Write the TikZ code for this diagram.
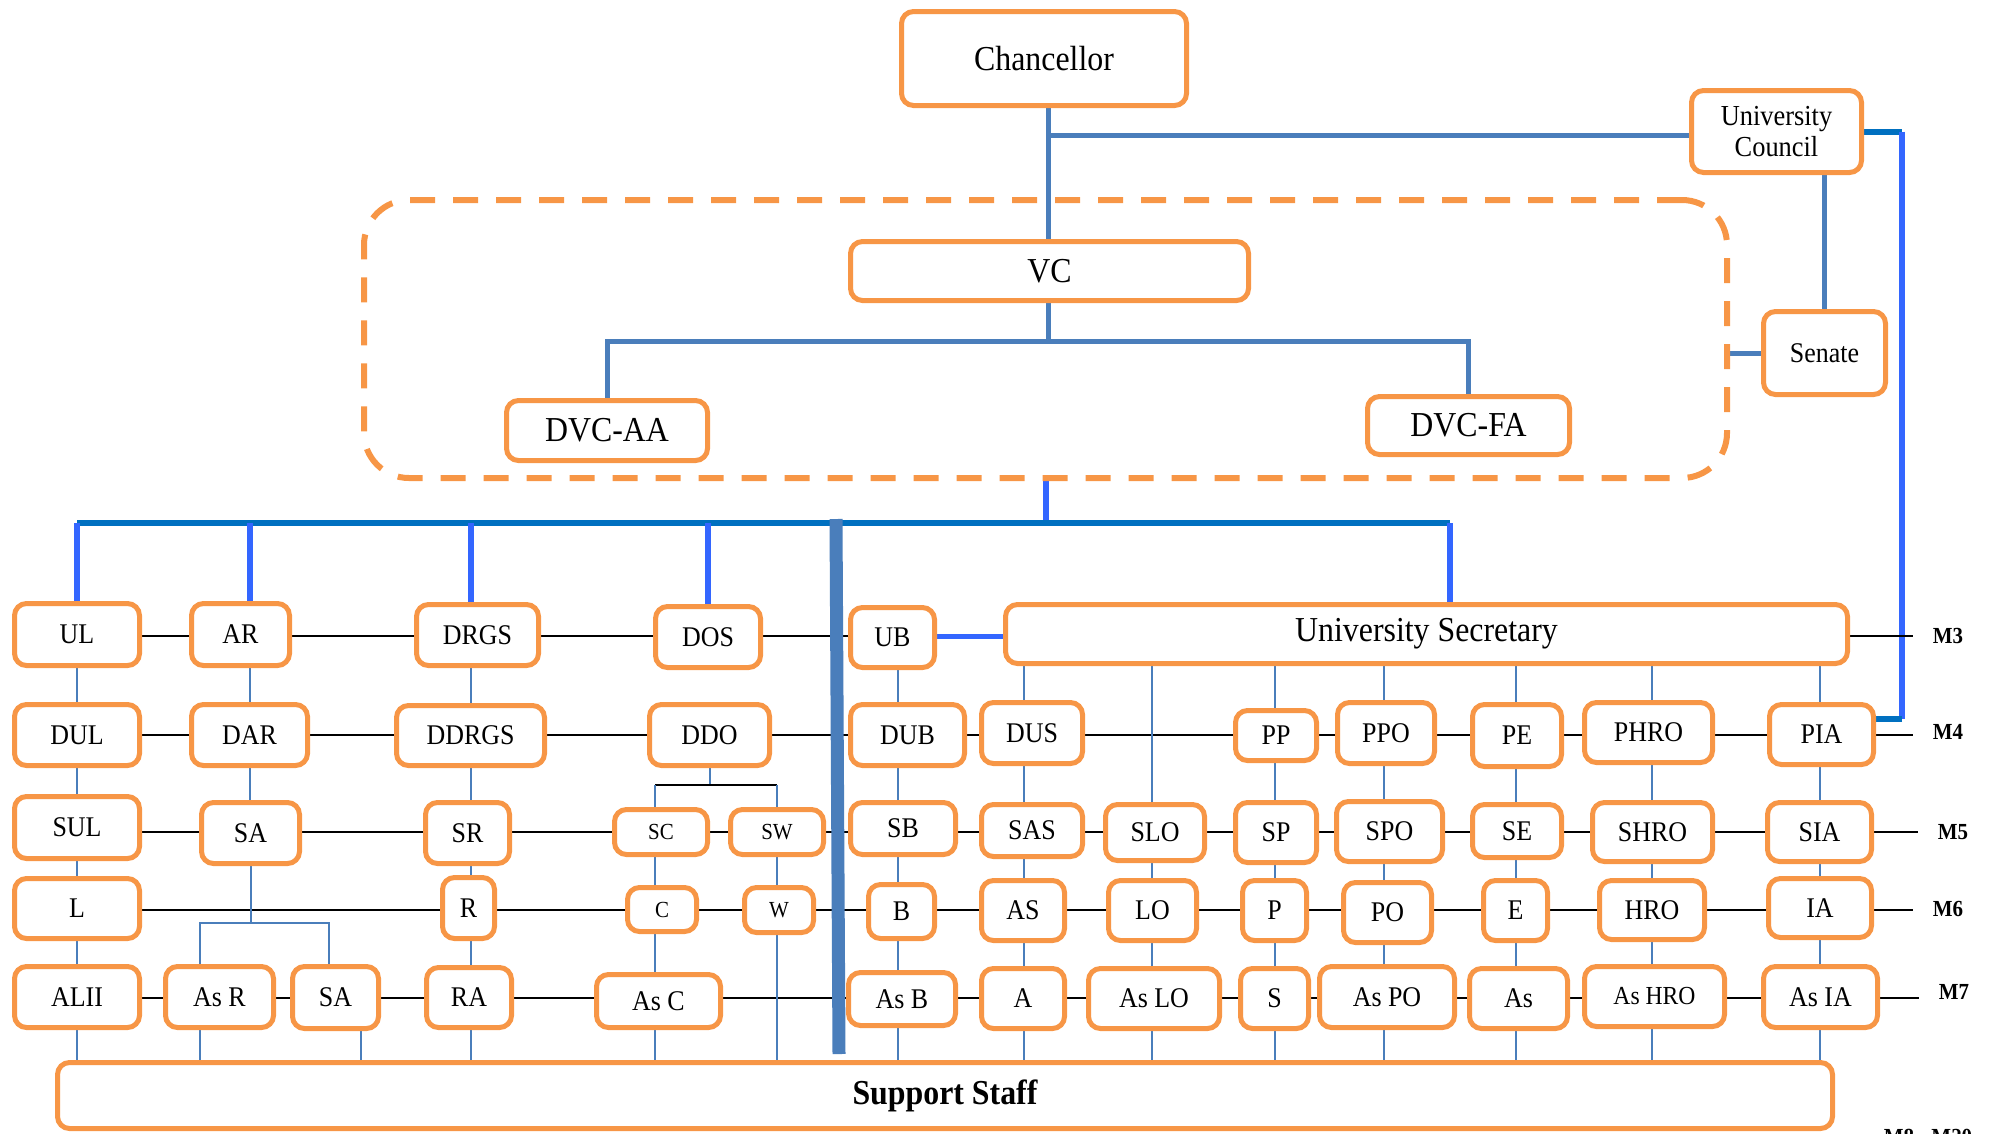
\documentclass[tikz,border=0pt]{standalone}
\usepackage{fontspec}
\setmainfont{Liberation Serif}[FakeStretch=0.91]
\usetikzlibrary{backgrounds}

\definecolor{orgorange}{HTML}{F79646}
\definecolor{steel}{HTML}{4A7EBB}
\definecolor{busblue}{HTML}{0070C0}
\definecolor{brightblue}{HTML}{3366FF}

% box from outer corner (x1,y1) to (x2,y2), y measured downwards
\newcommand\orgbox[7]{\node[box,#1,minimum width={#5-#3-5},minimum height={#6-#4-5}] (#2) at ({(#3+#5)/2},{(#4+#6)/2}) {#7};}
% vertical links along a column coordinate
\newcommand\vlinks[2]{\foreach \a/\b in {#2}{\draw[vline] (#1 |- \a.south) -- (#1 |- \b.north);}}
% horizontal links along a row coordinate
\newcommand\hlinks[2]{\foreach \a/\b in {#2}{\draw[hline] (\a.east |- #1) -- (\b.west |- #1);}}

\tikzset{
  box/.style={draw=orgorange, line width=5pt, rounded corners=12pt, fill=white,
    inner sep=0pt, align=center, font=\fontsize{28.5}{32}\selectfont},
  big/.style={font=\fontsize{35}{40}\selectfont},
  small/.style={font=\fontsize{23}{26}\selectfont},
  execbox/.style={draw=orgorange, line width=6pt, dash pattern=on 25pt off 18pt,
    rounded corners=45pt, inner sep=0pt},
  mlab/.style={inner sep=0pt, font=\fontsize{23}{26}\selectfont\bfseries},
  hline/.style={draw=black, line width=2.5pt},
  vline/.style={draw=steel, line width=2pt},
  topline/.style={draw=steel, line width=5pt},
  busline/.style={draw=busblue, line width=6pt},
  dropline/.style={draw=brightblue, line width=6pt},
}

\begin{document}
\begin{tikzpicture}[x=1pt, y=-1pt]
\useasboundingbox (0,0) rectangle (1994,1133);

% ---------- reference coordinates ----------
\coordinate (cTop) at (1048,0);
\coordinate (hUC) at (0,135);
\coordinate (hDVC) at (0,341);
\coordinate (bus) at (0,523);
\coordinate (cUS) at (1450,0);
\coordinate (rowA) at (0,636);
\coordinate (rowB) at (0,735);
\coordinate (rowC) at (0,832);
\coordinate (rowD) at (0,910);
\coordinate (rowE) at (0,998);
\coordinate (brL) at (200,923);
\coordinate (brR) at (329,923);
\coordinate (stubR) at (361,0);
\coordinate (brC) at (655,785);
\coordinate (brW) at (777,785);
\coordinate (cU) at (898,0);
\coordinate (cDUS) at (1024,0);
\coordinate (cLO) at (1152,0);
\coordinate (cP) at (1275,0);
\coordinate (cPO) at (1384,0);
\coordinate (cE) at (1516,0);
\coordinate (cH) at (1652,0);
\coordinate (cI) at (1820,0);
\coordinate (linkX) at (1902,0);
\coordinate (piaY) at (0,719);
\coordinate (barTop) at (836,519);
\coordinate (barBot) at (839,1054);

% ---------- executive group ----------
\node[execbox, minimum width=1363, minimum height=278] (exec) at (1045.5,339) {};

% ---------- top level ----------
\orgbox{big}{chan}{899}{9}{1189}{108}{Chancellor}
\orgbox{font=\fontsize{29}{31}\selectfont}{uc}{1689}{88}{1864}{175}{University\\Council}
\orgbox{}{senate}{1761}{309}{1888}{397}{Senate}
\orgbox{big}{vc}{848}{239}{1251}{303}{VC}
\orgbox{big}{dvcaa}{504}{398}{710}{463}{DVC-AA}
\orgbox{big}{dvcfa}{1365}{394}{1572}{457}{DVC-FA}

% ---------- M3 ----------
\orgbox{}{ul}{12}{601}{142}{668}{UL}
\orgbox{}{ar}{189}{601}{292}{668}{AR}
\orgbox{}{drgs}{414}{602}{541}{668}{DRGS}
\orgbox{}{dos}{653}{604}{763}{670}{DOS}
\orgbox{}{ub}{848}{605}{937}{670}{UB}
\orgbox{big}{us}{1003}{602}{1850}{666}{University Secretary}

% ---------- M4 ----------
\orgbox{}{dul}{12}{702}{142}{768}{DUL}
\orgbox{}{dar}{189}{702}{310}{768}{DAR}
\orgbox{}{ddrgs}{394}{703}{547}{768}{DDRGS}
\orgbox{}{ddo}{647}{702}{772}{768}{DDO}
\orgbox{}{dub}{848}{702}{967}{768}{DUB}
\orgbox{}{dus}{979}{700}{1085}{766}{DUS}
\orgbox{}{pp}{1233}{708}{1319}{763}{PP}
\orgbox{}{ppo}{1335}{700}{1437}{766}{PPO}
\orgbox{}{pe}{1470}{702}{1564}{769}{PE}
\orgbox{}{phro}{1582}{700}{1715}{765}{PHRO}
\orgbox{}{pia}{1767}{702}{1876}{767}{PIA}

% ---------- M5 ----------
\orgbox{}{sul}{12}{794}{142}{861}{SUL}
\orgbox{}{sa1}{199}{800}{302}{866}{SA}
\orgbox{}{sr}{423}{800}{512}{866}{SR}
\orgbox{small}{sc}{612}{807}{710}{857}{SC}
\orgbox{small}{sw}{728}{807}{826}{857}{SW}
\orgbox{}{sb}{848}{800}{958}{857}{SB}
\orgbox{}{sas}{979}{802}{1085}{859}{SAS}
\orgbox{}{slo}{1103}{802}{1207}{863}{SLO}
\orgbox{}{sp}{1233}{800}{1319}{865}{SP}
\orgbox{}{spo}{1334}{799}{1445}{864}{SPO}
\orgbox{}{se}{1470}{802}{1564}{860}{SE}
\orgbox{}{shro}{1590}{800}{1715}{864}{SHRO}
\orgbox{}{sia}{1765}{800}{1874}{864}{SIA}

% ---------- M6 ----------
\orgbox{}{l}{12}{876}{142}{941}{L}
\orgbox{}{r}{440}{875}{497}{941}{R}
\orgbox{small}{c}{625}{885}{699}{934}{C}
\orgbox{small}{w}{742}{885}{816}{935}{W}
\orgbox{}{b}{866}{882}{937}{941}{B}
\orgbox{}{as}{979}{878}{1067}{943}{AS}
\orgbox{}{lo}{1106}{878}{1199}{943}{LO}
\orgbox{}{p}{1240}{878}{1309}{943}{P}
\orgbox{}{po}{1341}{880}{1434}{945}{PO}
\orgbox{}{e}{1481}{878}{1550}{943}{E}
\orgbox{}{hro}{1597}{878}{1707}{942}{HRO}
\orgbox{}{ia}{1766}{876}{1874}{940}{IA}

% ---------- M7 ----------
\orgbox{}{alii}{12}{964}{142}{1030}{ALII}
\orgbox{}{asr}{163}{964}{276}{1030}{As R}
\orgbox{}{sa2}{290}{964}{381}{1031}{SA}
\orgbox{}{ra}{424}{965}{514}{1030}{RA}
\orgbox{}{asc}{594}{972}{723}{1030}{As C}
\orgbox{}{asb}{846}{970}{958}{1028}{As B}
\orgbox{}{a}{979}{966}{1067}{1031}{A}
\orgbox{}{aslo}{1086}{966}{1222}{1031}{As LO}
\orgbox{}{s}{1238}{966}{1311}{1031}{S}
\orgbox{}{aspo}{1317}{964}{1457}{1030}{As PO}
\orgbox{}{ass}{1467}{966}{1570}{1031}{As}
\orgbox{font=\fontsize{26}{30}\selectfont}{ashro}{1582}{964}{1727}{1029}{As HRO}
\orgbox{}{asia}{1761}{964}{1880}{1030}{As IA}

% ---------- support staff ----------
\orgbox{big}{support}{55}{1060}{1835}{1131}{\bfseries Support Staff}

% ---------- grade labels ----------
\node[mlab] (m3) at (1948,636) {M3};
\node[mlab] (m4) at (1948,732) {M4};
\node[mlab] (m5) at (1953,832) {M5};
\node[mlab] (m6) at (1948,909) {M6};
\node[mlab] (m7) at (1954,992) {M7};
\node[mlab, anchor=north] (m8) at (1928,1129) {M8 - M20};

% ---------- connectors ----------
\begin{scope}[on background layer]
  % governance lines
  \draw[topline] (cTop |- chan.south) -- (cTop |- vc.north);
  \draw[topline] (cTop |- hUC) -- (uc.west |- hUC);
  \draw[topline] (senate.north) -- (senate.north |- uc.south);
  \draw[topline] (senate.west) -- (senate.west -| exec.east);
  \draw[topline] (cTop |- vc.south) -- (cTop |- hDVC);
  \draw[topline] (dvcaa.north) -- (dvcaa.north |- hDVC) -- (dvcfa.north |- hDVC) -- (dvcfa.north);

  % council link to the secretariat grade
  \draw[busline] (uc.east) -- (uc.east -| linkX);
  \draw[dropline] (uc.east -| linkX) -- (linkX |- piaY);
  \draw[busline] (linkX |- piaY) -- (pia.east |- piaY);

  % main distribution bus
  \draw[dropline] (exec.south) -- (exec.south |- bus);
  \draw[busline] (ul.north |- bus) -- (cUS |- bus);
  \draw[dropline] (ul.north |- bus) -- (ul.north);
  \draw[dropline] (dar.north |- bus) -- (dar.north |- ar.north);
  \draw[dropline] (ddrgs.center |- bus) -- (ddrgs.center |- drgs.north);
  \draw[dropline] (dos.north |- bus) -- (dos.north);
  \draw[dropline] (cUS |- bus) -- (cUS |- us.north);
  \draw[brightblue, line width=5pt] (ub.east |- rowA) -- (us.west |- rowA);

  % grade rows
  \hlinks{rowA}{ul/ar, ar/drgs, drgs/dos, dos/ub}
  \hlinks{rowB}{dul/dar, dar/ddrgs, ddrgs/ddo, ddo/dub, dub/dus, dus/pp, pp/ppo, ppo/pe, pe/phro, phro/pia}
  \hlinks{rowC}{sul/sa1, sa1/sr, sr/sc, sc/sw, sw/sb, sb/sas, sas/slo, slo/sp, sp/spo, spo/se, se/shro, shro/sia}
  \hlinks{rowD}{l/r, r/c, c/w, w/b, b/as, as/lo, lo/p, p/po, po/e, e/hro, hro/ia}
  \hlinks{rowE}{alii/asr, asr/sa2, sa2/ra, ra/asc, asc/asb, asb/a, a/aslo, aslo/s, s/aspo, aspo/ass, ass/ashro, ashro/asia}
  \draw[hline, shorten >=20pt] (us.east |- rowA) -- (m3.west |- rowA);
  \draw[hline, shorten >=20pt] (pia.east |- rowB) -- (m4.west |- rowB);
  \draw[hline, shorten >=20pt] (sia.east |- rowC) -- (m5.west |- rowC);
  \draw[hline, shorten >=20pt] (ia.east |- rowD) -- (m6.west |- rowD);
  \draw[hline, shorten >=20pt] (asia.east |- rowE) -- (m7.west |- rowE);

  % library column
  \foreach \a/\b in {ul/dul, dul/sul, sul/l, l/alii, alii/support}
    \draw[vline] (\a.south) -- (\a.south |- \b.north);
  % registry column
  \draw[vline] (dar.north) -- (dar.north |- ar.south);
  \draw[vline] (dar.south) -- (dar.south |- sa1.north);
  \draw[vline] (sa1.south) -- (sa1.south |- brL);
  \draw[vline] (brL |- asr.north) -- (brL) -- (brR) -- (brR |- sa2.north);
  \draw[vline] (brL |- asr.south) -- (brL |- support.north);
  \draw[vline] (stubR |- sa2.south) -- (stubR |- support.north);
  % graduate school column
  \vlinks{ddrgs.center}{drgs/ddrgs, ddrgs/sr, sr/r, r/ra, ra/support}
  % students' office columns
  \draw[vline] (ddo.south) -- (ddo.south |- brC);
  \draw[hline, line width=2pt] (brC) -- (brW);
  \draw[vline] (brC) -- (brC |- sc.north);
  \draw[vline] (brW) -- (brW |- sw.north);
  \vlinks{brC}{sc/c, c/asc, asc/support}
  \vlinks{brW}{sw/w, w/support}
  % bursar column
  \vlinks{cU}{ub/dub, dub/sb, sb/b, b/asb, asb/support}
  % secretary columns
  \vlinks{cDUS}{us/dus, dus/sas, sas/as, as/a, a/support}
  \vlinks{cLO}{us/slo, slo/lo, lo/aslo, aslo/support}
  \vlinks{cP}{us/pp, pp/sp, sp/p, p/s, s/support}
  \vlinks{cPO}{us/ppo, ppo/spo, spo/po, po/aspo, aspo/support}
  \vlinks{cE}{us/pe, pe/se, se/e, e/ass, ass/support}
  \vlinks{cH}{us/phro, phro/shro, shro/hro, hro/ashro, ashro/support}
  \vlinks{cI}{us/pia, pia/sia, sia/ia, ia/asia, asia/support}
\end{scope}

% academic / administrative divider
\draw[steel, line width=13pt] (barTop) -- (barBot);

\end{tikzpicture}
\end{document}
